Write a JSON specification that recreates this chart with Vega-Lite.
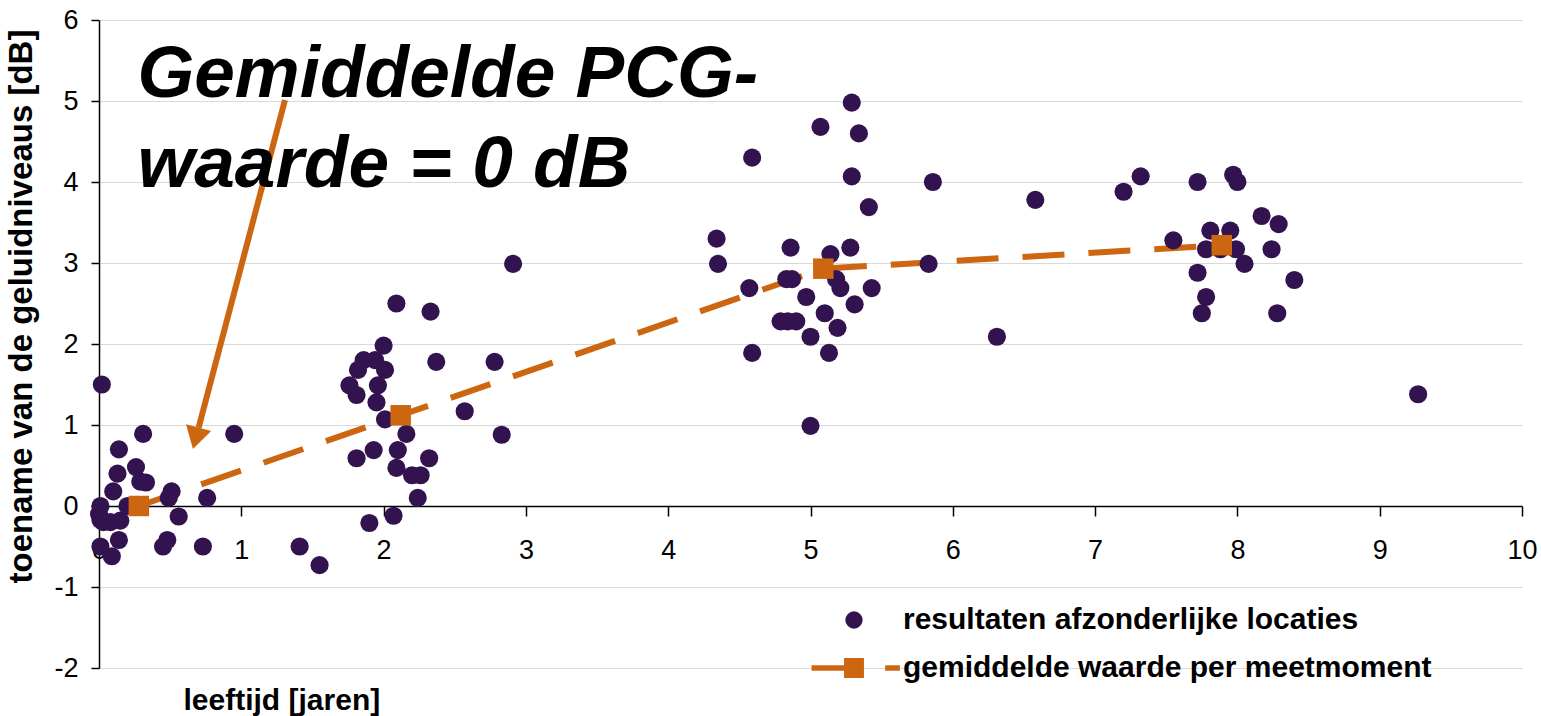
{
  "$schema": "https://vega.github.io/schema/vega-lite/v6.json",
  "width": 1423,
  "height": 648,
  "autosize": {"type": "none"},
  "padding": {"left": 99, "top": 20, "right": 19, "bottom": 48},
  "background": "white",
  "config": {"view": {"stroke": null}, "font": "Liberation Sans"},
  "datasets": {
    "pts": [
      {"x": 0.02, "y": 1.5}, {"x": 0.01, "y": 0.0}, {"x": 0.01, "y": -0.17}, {"x": 0.0, "y": -0.1},
      {"x": 0.03, "y": -0.2}, {"x": 0.08, "y": -0.2}, {"x": 0.15, "y": -0.18}, {"x": 0.2, "y": 0.0},
      {"x": 0.01, "y": -0.5}, {"x": 0.09, "y": -0.62}, {"x": 0.1, "y": 0.18}, {"x": 0.13, "y": 0.4},
      {"x": 0.14, "y": 0.7}, {"x": 0.14, "y": -0.42}, {"x": 0.26, "y": 0.48}, {"x": 0.29, "y": 0.3},
      {"x": 0.33, "y": 0.29}, {"x": 0.31, "y": 0.89}, {"x": 0.45, "y": -0.5}, {"x": 0.48, "y": -0.42},
      {"x": 0.51, "y": 0.18}, {"x": 0.49, "y": 0.1}, {"x": 0.56, "y": -0.13}, {"x": 0.76, "y": 0.1},
      {"x": 0.73, "y": -0.5}, {"x": 0.95, "y": 0.89}, {"x": 1.41, "y": -0.5}, {"x": 1.55, "y": -0.73},
      {"x": 2.91, "y": 2.99}, {"x": 2.09, "y": 2.5}, {"x": 2.33, "y": 2.4}, {"x": 2.0, "y": 1.98},
      {"x": 1.86, "y": 1.8}, {"x": 1.94, "y": 1.8}, {"x": 1.82, "y": 1.68}, {"x": 2.01, "y": 1.68},
      {"x": 2.37, "y": 1.78}, {"x": 2.78, "y": 1.78}, {"x": 1.76, "y": 1.49}, {"x": 1.96, "y": 1.49},
      {"x": 1.81, "y": 1.37}, {"x": 1.95, "y": 1.28}, {"x": 2.57, "y": 1.17}, {"x": 2.01, "y": 1.07},
      {"x": 2.16, "y": 0.89}, {"x": 2.83, "y": 0.88}, {"x": 1.81, "y": 0.59}, {"x": 1.93, "y": 0.69},
      {"x": 2.1, "y": 0.69}, {"x": 2.32, "y": 0.59}, {"x": 2.09, "y": 0.47}, {"x": 2.2, "y": 0.38},
      {"x": 2.26, "y": 0.38}, {"x": 2.24, "y": 0.1}, {"x": 2.07, "y": -0.12}, {"x": 1.9, "y": -0.21},
      {"x": 5.29, "y": 4.98}, {"x": 5.07, "y": 4.68}, {"x": 5.34, "y": 4.6}, {"x": 4.59, "y": 4.3},
      {"x": 5.29, "y": 4.07}, {"x": 5.86, "y": 4.0}, {"x": 5.41, "y": 3.69}, {"x": 4.34, "y": 3.3},
      {"x": 4.86, "y": 3.19}, {"x": 5.14, "y": 3.11}, {"x": 5.28, "y": 3.19}, {"x": 4.35, "y": 2.99},
      {"x": 5.83, "y": 2.99}, {"x": 4.83, "y": 2.8}, {"x": 4.87, "y": 2.8}, {"x": 5.18, "y": 2.8},
      {"x": 5.21, "y": 2.69}, {"x": 4.57, "y": 2.69}, {"x": 5.43, "y": 2.69}, {"x": 4.97, "y": 2.58},
      {"x": 5.31, "y": 2.49}, {"x": 5.1, "y": 2.38}, {"x": 4.79, "y": 2.28}, {"x": 4.84, "y": 2.28},
      {"x": 4.9, "y": 2.28}, {"x": 5.19, "y": 2.2}, {"x": 5.0, "y": 2.09}, {"x": 4.59, "y": 1.89},
      {"x": 5.13, "y": 1.89}, {"x": 5.0, "y": 0.99},
      {"x": 6.58, "y": 3.78}, {"x": 6.31, "y": 2.09}, {"x": 9.27, "y": 1.38},
      {"x": 7.32, "y": 4.07}, {"x": 7.2, "y": 3.88}, {"x": 7.72, "y": 4.0}, {"x": 7.97, "y": 4.09},
      {"x": 8.0, "y": 4.0}, {"x": 8.17, "y": 3.58}, {"x": 8.29, "y": 3.48}, {"x": 7.55, "y": 3.28},
      {"x": 7.81, "y": 3.4}, {"x": 7.95, "y": 3.4}, {"x": 7.78, "y": 3.17}, {"x": 7.88, "y": 3.17},
      {"x": 7.99, "y": 3.17}, {"x": 8.24, "y": 3.17}, {"x": 8.05, "y": 2.99}, {"x": 7.72, "y": 2.88},
      {"x": 8.4, "y": 2.79}, {"x": 7.78, "y": 2.58}, {"x": 7.75, "y": 2.38}, {"x": 8.28, "y": 2.38}
    ],
    "avg": [
      {"x": 0.28, "y": 0.0}, {"x": 2.12, "y": 1.12}, {"x": 5.09, "y": 2.93}, {"x": 7.89, "y": 3.22}
    ],
    "arrow": [{"x": 1.307, "y": 5.012, "x2": 0.7, "y2": 0.967}],
    "head": [{"x": 0.68, "y": 0.835}],
    "note": [
      {"x": 0.27, "y": 5.05, "t": "Gemiddelde PCG-"},
      {"x": 0.27, "y": 3.94, "t": "waarde = 0 dB"}
    ]
  },
  "layer": [
    {
      "data": {"name": "avg"},
      "mark": {"type": "line", "color": "#CC6611", "strokeWidth": 6, "strokeDash": [42, 24]},
      "encoding": {
        "x": {"field": "x", "type": "quantitative", "scale": {"domain": [0, 10], "nice": false},
          "axis": {"orient": "bottom", "offset": -162, "values": [0,1,2,3,4,5,6,7,8,9,10], "grid": false,
            "labelExpr": "'' + datum.value",
            "domainColor": "black", "domainWidth": 1.5, "tickColor": "black", "tickSize": 10, "tickWidth": 1.5,
            "labelFontSize": 27, "labelPadding": 21, "labelColor": "black", "labelFlush": false, "labelOverlap": false,
            "title": "leeftijd [jaren]", "titleFontSize": 30, "titleFontWeight": "bold", "titleColor": "black",
            "titleX": 84, "titleY": 203, "titleAlign": "left", "titleBaseline": "alphabetic", "titleAnchor": "start"}},
        "y": {"field": "y", "type": "quantitative", "scale": {"domain": [-2, 6], "nice": false},
          "axis": {"values": [-2,-1,0,1,2,3,4,5,6], "grid": true, "gridColor": "#d9d9d9", "gridWidth": 1,
            "labelExpr": "'' + datum.value",
            "domainColor": "black", "domainWidth": 1.5, "tickColor": "black", "tickSize": 8, "tickWidth": 1.5,
            "labelFontSize": 27, "labelPadding": 13, "labelColor": "black",
            "title": "toename van de geluidniveaus [dB]", "titleFontSize": 33, "titleFontWeight": "bold", "titleColor": "black",
            "titleX": -68, "titleY": 286, "titleAngle": 270, "titleAlign": "center", "titleBaseline": "alphabetic", "titleLimit": 0}}
      }
    },
    {
      "data": {"name": "pts"},
      "transform": [{"calculate": "'resultaten afzonderlijke locaties'", "as": "series"}],
      "mark": {"type": "point", "shape": "circle", "filled": true, "opacity": 1, "size": 330},
      "encoding": {
        "x": {"field": "x", "type": "quantitative"},
        "y": {"field": "y", "type": "quantitative"},
        "color": {"field": "series", "type": "nominal",
          "scale": {"domain": ["resultaten afzonderlijke locaties", "gemiddelde waarde per meetmoment"], "range": ["#33134F", "#CC6611"]},
          "legend": {"orient": "none", "legendX": 740, "legendY": 585, "title": null, "padding": 0,
            "labelFontSize": 30, "labelFontWeight": "bold", "labelColor": "black", "labelFont": "Liberation Sans", "labelLimit": 0,
            "symbolSize": 300, "labelOffset": 34, "rowPadding": 18, "symbolStrokeWidth": 0, "symbolOpacity": 1,
            "encode": {"symbols": {"update": {"shape": {"signal": "datum.value === 'gemiddelde waarde per meetmoment' ? 'M-4.9,-0.33L-1.15,-0.33L-1.15,-1.15L1.15,-1.15L1.15,1.15L-1.15,1.15L-1.15,0.33L-4.9,0.33Z M3.6,-0.33L5.3,-0.33L5.3,0.33L3.6,0.33Z' : 'circle'"}}}}}
        }
      }
    },
    {
      "data": {"name": "avg"},
      "transform": [{"calculate": "'gemiddelde waarde per meetmoment'", "as": "series"}],
      "mark": {"type": "point", "shape": "square", "filled": true, "opacity": 1, "size": 420},
      "encoding": {
        "x": {"field": "x", "type": "quantitative"},
        "y": {"field": "y", "type": "quantitative"},
        "color": {"field": "series", "type": "nominal"}
      }
    },
    {
      "data": {"name": "arrow"},
      "mark": {"type": "rule", "color": "#CC6611", "strokeWidth": 6},
      "encoding": {
        "x": {"field": "x", "type": "quantitative"},
        "y": {"field": "y", "type": "quantitative"},
        "x2": {"field": "x2"},
        "y2": {"field": "y2"}
      }
    },
    {
      "data": {"name": "head"},
      "mark": {"type": "point", "shape": "M-1,-0.85L1,-0.85L0,0.85Z", "filled": true, "opacity": 1, "size": 676, "angle": 14.8, "color": "#CC6611"},
      "encoding": {
        "x": {"field": "x", "type": "quantitative"},
        "y": {"field": "y", "type": "quantitative"}
      }
    },
    {
      "data": {"name": "note"},
      "mark": {"type": "text", "font": "Liberation Sans", "fontSize": 73, "fontWeight": "bold", "fontStyle": "italic", "align": "left", "baseline": "alphabetic", "color": "black"},
      "encoding": {
        "x": {"field": "x", "type": "quantitative"},
        "y": {"field": "y", "type": "quantitative"},
        "text": {"field": "t"}
      }
    }
  ]
}
